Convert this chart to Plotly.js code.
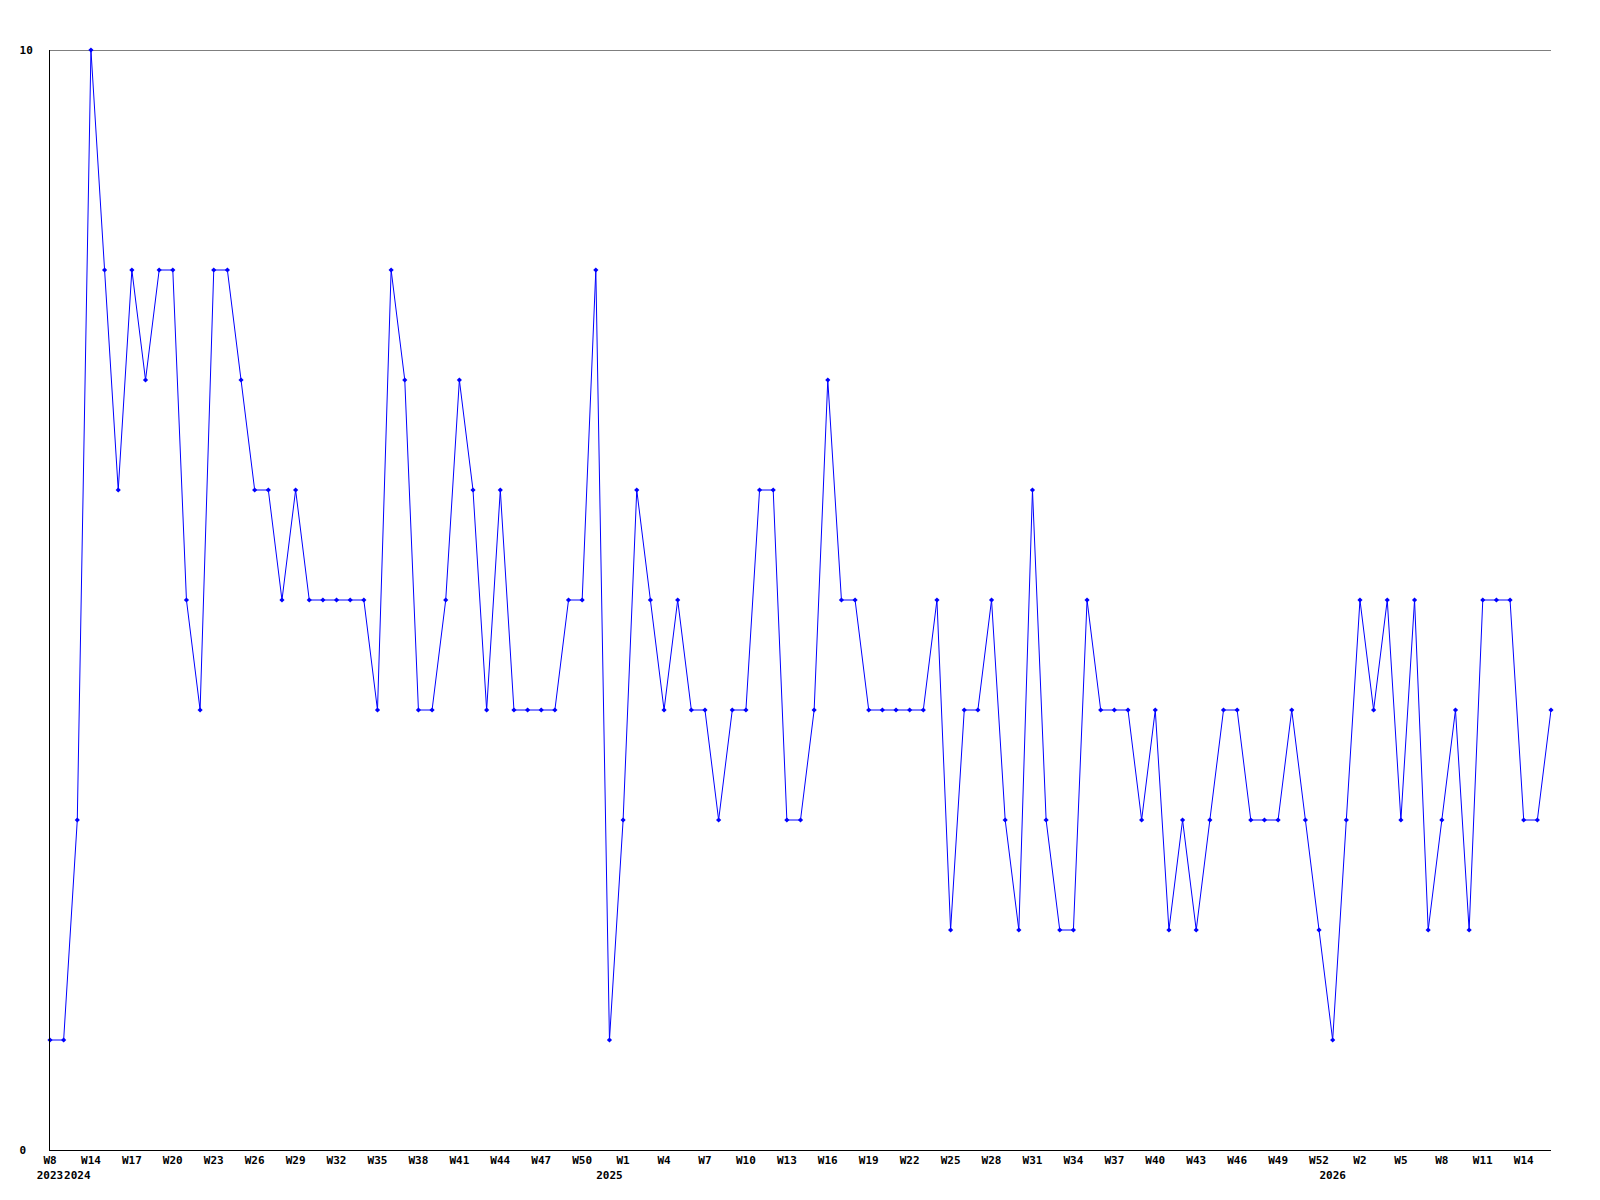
<!DOCTYPE html>
<html>
<head>
<meta charset="utf-8">
<script src="https://cdn.plot.ly/plotly-3.0.1.min.js"></script>
<style>html,body{margin:0;padding:0;background:#fff}#chart{width:1600px;height:1200px}</style>
</head>
<body>
<div id="chart"></div>
<script>
// Week of each data point (year-week)
const weekLabels = [
  "2023-W08",
  "2024-W12","2024-W13","2024-W14","2024-W15","2024-W16","2024-W17","2024-W18","2024-W19","2024-W20","2024-W21",
  "2024-W22","2024-W23","2024-W24","2024-W25","2024-W26","2024-W27","2024-W28","2024-W29","2024-W30","2024-W31",
  "2024-W32","2024-W33","2024-W34","2024-W35","2024-W36","2024-W37","2024-W38","2024-W39","2024-W40","2024-W41",
  "2024-W42","2024-W43","2024-W44","2024-W45","2024-W46","2024-W47","2024-W48","2024-W49","2024-W50","2024-W51",
  "2025-W00","2025-W01","2025-W02","2025-W03","2025-W04","2025-W05","2025-W06","2025-W07","2025-W08","2025-W09",
  "2025-W10","2025-W11","2025-W12","2025-W13","2025-W14","2025-W15","2025-W16","2025-W17","2025-W18","2025-W19",
  "2025-W20","2025-W21","2025-W22","2025-W23","2025-W24","2025-W25","2025-W26","2025-W27","2025-W28","2025-W29",
  "2025-W30","2025-W31","2025-W32","2025-W33","2025-W34","2025-W35","2025-W36","2025-W37","2025-W38","2025-W39",
  "2025-W40","2025-W41","2025-W42","2025-W43","2025-W44","2025-W45","2025-W46","2025-W47","2025-W48","2025-W49",
  "2025-W50","2025-W51","2025-W52",
  "2026-W00","2026-W01","2026-W02","2026-W03","2026-W04","2026-W05","2026-W06","2026-W07","2026-W08","2026-W09",
  "2026-W10","2026-W11","2026-W12","2026-W13","2026-W14","2026-W15","2026-W16"
];

// Weekly count
const counts = [
  1,1,3,10,8,6,8,7,8,8,
  5,4,8,8,7,6,6,5,6,5,
  5,5,5,5,4,8,7,4,4,5,
  7,6,4,6,4,4,4,4,5,5,
  8,1,3,6,5,4,5,4,4,3,
  4,4,6,6,3,3,4,7,5,5,
  4,4,4,4,4,5,2,4,4,5,
  3,2,6,3,2,2,5,4,4,4,
  3,4,2,3,2,3,4,4,3,3,
  3,4,3,2,1,3,5,4,5,3,
  5,2,3,4,2,5,5,5,3,3,4
];

// Y axis tick labels
const yTickVals = [0, 10];
const yTickText = ["0\u00a0", "10"];

const LABEL_EVERY = 3;

const xIdx = weekLabels.map((_, i) => i);

// Build x tick labels: week every 3rd point, year where it changes
const tickMap = new Map();
let prevYear = null, lastYearPos = -Infinity;
weekLabels.forEach((lab, i) => {
  const [yr, wk] = lab.split("-W");
  if (i % LABEL_EVERY === 0) {
    const e = tickMap.get(i) || {w: "", y: ""};
    e.w = "W" + parseInt(wk, 10);
    tickMap.set(i, e);
  }
  if (yr !== prevYear) {
    let pos = Math.max(i, lastYearPos + 2);
    const e = tickMap.get(pos) || {w: "", y: ""};
    e.y = yr;
    tickMap.set(pos, e);
    lastYearPos = pos;
    prevYear = yr;
  }
});
const xTickVals = [...tickMap.keys()].sort((a, b) => a - b);
const xTickText = xTickVals.map(v => {
  const e = tickMap.get(v);
  return (e.w || "\u00a0") + (e.y ? "<br>" + e.y : "");
});

const fontFam = "DejaVu Sans Mono, Liberation Mono, monospace";

const trace = {
  x: xIdx,
  y: counts,
  type: "scatter",
  mode: "lines+markers",
  line: {color: "#0000ff", width: 1},
  marker: {color: "#0000ff", symbol: "diamond", size: 4},
  cliponaxis: false,
  hoverinfo: "skip"
};

const yMax = yTickVals[yTickVals.length - 1];

const layout = {
  width: 1600,
  height: 1200,
  margin: {l: 50, r: 49, t: 50, b: 50, pad: 0},
  paper_bgcolor: "#ffffff",
  plot_bgcolor: "#ffffff",
  showlegend: false,
  font: {family: fontFam, size: 11, color: "#000000", weight: "bold"},
  xaxis: {
    range: [0, xIdx.length - 1],
    tickmode: "array",
    tickvals: xTickVals,
    ticktext: xTickText,
    tickangle: 0,
    ticks: "",
    showgrid: false,
    zeroline: false,
    showline: true,
    linecolor: "#000000",
    linewidth: 1,
    tickfont: {family: fontFam, size: 11, color: "#000000", weight: "bold"}
  },
  yaxis: {
    range: [0, yMax],
    tickmode: "array",
    tickvals: yTickVals,
    ticktext: yTickText,
    ticks: "",
    showgrid: true,
    gridcolor: "#000000",
    gridwidth: 1,
    zeroline: false,
    showline: true,
    linecolor: "#000000",
    linewidth: 1,
    ticklabelstandoff: 14,
    tickfont: {family: fontFam, size: 11, color: "#000000", weight: "bold"}
  },
  shapes: [{
    type: "line", xref: "paper", yref: "y",
    x0: 0, x1: 1, y0: yMax, y1: yMax,
    line: {color: "#000000", width: 1},
    layer: "below"
  }]
};

Plotly.newPlot("chart", [trace], layout, {staticPlot: true, displayModeBar: false});
</script>
</body>
</html>
